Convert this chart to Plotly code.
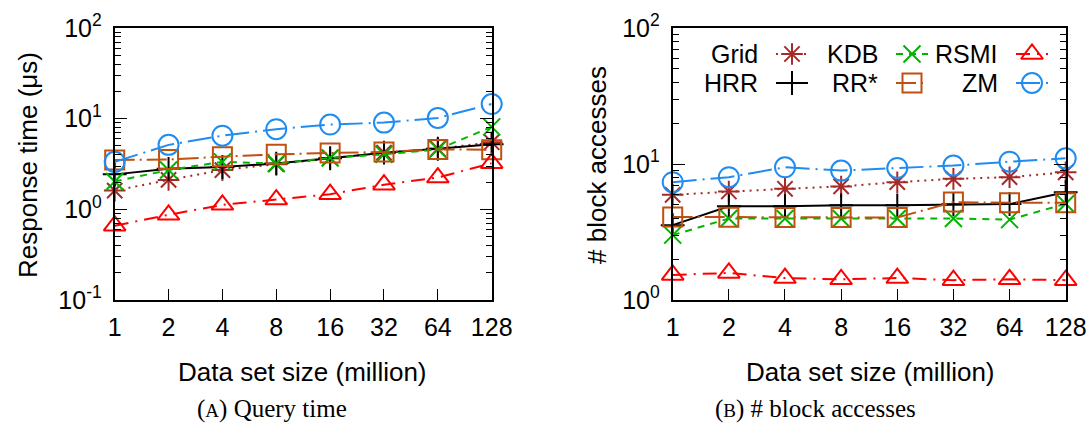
import math
import plotly.graph_objects as go

W, H = 1090, 426

# ---------------- data ----------------
sizes = [1, 2, 4, 8, 16, 32, 64, 128]
size_labels = ["1", "2", "4", "8", "16", "32", "64", "128"]
series_names = ["Grid", "HRR", "KDB", "RR*", "RSMI", "ZM"]

# (a) query response time (microseconds)
grid_t = [1.61, 2.11, 2.71, 3.15, 3.69, 4.22, 4.66, 5.5]
hrr_t = [2.43, 2.80, 2.93, 3.20, 3.66, 4.22, 4.66, 5.23]
kdb_t = [2.03, 2.71, 3.34, 3.20, 3.69, 4.04, 4.58, 8.12]
rrs_t = [3.51, 3.55, 3.81, 4.04, 4.18, 4.29, 4.58, 4.55]
rsmi_t = [0.66, 0.87, 1.12, 1.28, 1.47, 1.87, 2.24, 3.23]
zm_t = [3.34, 5.14, 6.49, 7.66, 8.61, 9.05, 10.2, 14.5]

# (b) number of block accesses
grid_b = [5.94, 6.28, 6.57, 6.84, 7.35, 7.78, 8.0, 8.69]
hrr_b = [3.55, 4.89, 4.89, 4.97, 4.97, 5.05, 5.07, 6.2]
kdb_b = [3.0, 3.97, 3.97, 3.97, 3.97, 3.97, 3.9, 5.1]
rrs_b = [4.08, 4.06, 4.04, 4.04, 4.04, 5.25, 5.18, 5.18]
rsmi_b = [1.53, 1.58, 1.45, 1.42, 1.45, 1.40, 1.42, 1.40]
zm_b = [7.35, 8.0, 9.46, 8.94, 9.35, 9.73, 10.4, 11.0]

ytick_left = [0.1, 1, 10, 100]
ytick_left_text = ["10<sup>-1</sup>", "10<sup>0</sup>", "10<sup>1</sup>", "10<sup>2</sup>"]
ytick_right = [1, 10, 100]
ytick_right_text = ["10<sup>0</sup>", "10<sup>1</sup>", "10<sup>2</sup>"]

# ---------------- styles ----------------
styles = {
    "Grid": dict(color="#A52A2A", dash="2px,5px", symbol="asterisk-open", size=18),
    "HRR": dict(color="#000000", dash="solid", symbol="cross-thin-open", size=17),
    "KDB": dict(color="#00B400", dash="7px,6px", symbol="x-thin-open", size=17),
    "RR*": dict(color="#C05010", dash="20px,5px,2px,5px", symbol="square-open", size=19),
    "RSMI": dict(color="#FF0000", dash="14px,7px,2px,7px", symbol="triangle-up-open", size=19),
    "ZM": dict(color="#1E8CF0", dash="24px,6px,2px,6px", symbol="circle-open", size=20),
}
left_data = dict(zip(series_names, [grid_t, hrr_t, kdb_t, rrs_t, rsmi_t, zm_t]))
right_data = dict(zip(series_names, [grid_b, hrr_b, kdb_b, rrs_b, rsmi_b, zm_b]))

SANS = "Liberation Sans, Arial, sans-serif"
SERIF = "Liberation Serif, Times New Roman, serif"

fig = go.Figure()


def add_series(data, xa, ya):
    for name in series_names:
        s = styles[name]
        fig.add_trace(go.Scatter(
            x=sizes, y=data[name], name=name, mode="lines+markers",
            xaxis=xa, yaxis=ya, showlegend=False, cliponaxis=False,
            line=dict(color=s["color"], width=2, dash=s["dash"]),
            marker=dict(symbol=s["symbol"], size=s["size"], color=s["color"],
                        line=dict(color=s["color"], width=2)),
        ))


add_series(left_data, "x", "y")
add_series(right_data, "x2", "y2")

# ---------------- custom gnuplot-style key (text then sample) ----------------
key_cols = {"Grid": 0, "HRR": 0, "KDB": 1, "RR*": 1, "RSMI": 2, "ZM": 2}
key_rows = {"Grid": 0, "KDB": 0, "RSMI": 0, "HRR": 1, "RR*": 1, "ZM": 1}
key_cx = [792, 912, 1032]
key_cy = [54, 83]
key_half = 16
for name in series_names:
    s = styles[name]
    cx = key_cx[key_cols[name]]
    cy = key_cy[key_rows[name]]
    fig.add_trace(go.Scatter(
        x=[cx - key_half, cx + key_half], y=[cy, cy], mode="lines",
        xaxis="x3", yaxis="y3", showlegend=False, cliponaxis=False, hoverinfo="skip",
        line=dict(color=s["color"], width=2, dash=s["dash"]),
    ))
    fig.add_trace(go.Scatter(
        x=[cx], y=[cy], mode="markers",
        xaxis="x3", yaxis="y3", showlegend=False, cliponaxis=False, hoverinfo="skip",
        marker=dict(symbol=s["symbol"], size=s["size"], color=s["color"],
                    line=dict(color=s["color"], width=2)),
    ))
    fig.add_annotation(x=(cx - 33) / W, y=1 - cy / H, xref="paper", yref="paper",
                       text=name, showarrow=False, xanchor="right", yanchor="middle",
                       height=24, borderpad=0, valign="middle",
                       font=dict(family=SANS, size=25, color="black"))


def px2x(p):
    return p / W


def px2y(p):
    return 1 - p / H


ydom = [px2y(300), px2y(28)]
xdomL = [px2x(114.7), px2x(491.7)]
xdomR = [px2x(672.7), px2x(1065.7)]

common_x = dict(
    type="log", range=[0, math.log10(128)], tickmode="array", tickvals=sizes,
    ticktext=size_labels, ticks="inside", ticklen=11, tickwidth=1.3, tickcolor="black",
    showline=True, linewidth=2, linecolor="black", mirror=True, showgrid=False,
    zeroline=False, tickfont=dict(family=SANS, size=25, color="black"),
    automargin=False, ticklabelstandoff=4,
)

common_y = dict(
    type="log", tickmode="array", ticks="inside", ticklen=12, tickwidth=1.3,
    tickcolor="black", showline=True, linewidth=2, linecolor="black", mirror="ticks",
    showgrid=False, zeroline=False, tickfont=dict(family=SANS, size=25, color="black"),
    automargin=False, ticklabelstandoff=6,
    minor=dict(dtick="D1", ticks="inside", ticklen=6, tickwidth=1.2,
               tickcolor="black", showgrid=False),
)

fig.update_layout(
    width=W, height=H, margin=dict(l=0, r=0, t=0, b=0),
    paper_bgcolor="white", plot_bgcolor="rgba(0,0,0,0)", showlegend=False,
    xaxis=dict(domain=xdomL, anchor="y", **common_x),
    yaxis=dict(domain=ydom, anchor="x", range=[-1, 2], tickvals=ytick_left,
               ticktext=ytick_left_text, **common_y),
    xaxis2=dict(domain=xdomR, anchor="y2", **common_x),
    yaxis2=dict(domain=ydom, anchor="x2", range=[0, 2], tickvals=ytick_right,
                ticktext=ytick_right_text, **common_y),
    xaxis3=dict(domain=[0, 1], range=[0, W], visible=False, fixedrange=True,
                anchor="y3"),
    yaxis3=dict(domain=[0, 1], range=[H, 0], visible=False, fixedrange=True,
                anchor="x3"),
)

texts = [
    ("Response time (μs)", 28, 165, -90, SANS, 26),
    ("# block accesses", 597, 165, -90, SANS, 26),
    ("Data set size (million)", 302, 372, 0, SANS, 26),
    ("Data set size (million)", 870, 372, 0, SANS, 26),
    ("(<span style='font-size:19px'>A</span>) Query time", 272, 409, 0, SERIF, 25),
    ("(<span style='font-size:19px'>B</span>) # block accesses", 815, 409, 0, SERIF, 25),
]
for t, x, y, ang, fam, sz in texts:
    fig.add_annotation(x=px2x(x), y=px2y(y), xref="paper", yref="paper", text=t,
                       showarrow=False, textangle=ang, xanchor="center", yanchor="middle",
                       font=dict(family=fam, size=sz, color="black"))

fig.write_html("out.html")
